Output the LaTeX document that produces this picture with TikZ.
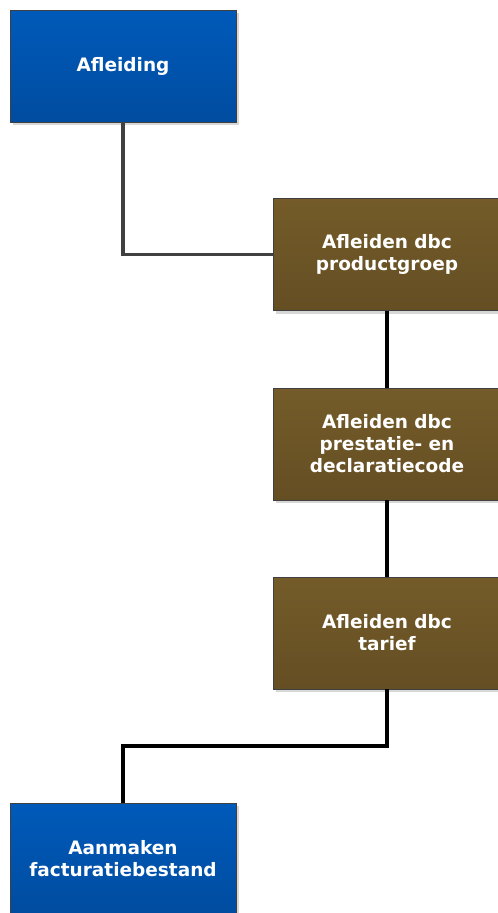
\documentclass[tikz,border=0pt]{standalone}
\usepackage{fontspec}
\setmainfont{DejaVu Sans}
\usetikzlibrary{shadows}
\definecolor{bluetop}{RGB}{0,90,185}
\definecolor{bluebot}{RGB}{0,76,160}
\definecolor{browntop}{RGB}{116,91,41}
\definecolor{brownbot}{RGB}{100,78,35}
\definecolor{shadowgray}{RGB}{215,215,215}
\definecolor{linegray}{RGB}{64,64,64}
\begin{document}
\begin{tikzpicture}[x=1pt,y=-1pt,
  boxbase/.style={draw=linegray, line width=0.8pt, minimum width=226pt, minimum height=112pt,
    align=center, text=white, font=\fontsize{18.5}{22}\selectfont\bfseries, inner sep=0pt,
    drop shadow={shadow xshift=3pt, shadow yshift=-3pt, fill=shadowgray, opacity=1}},
  bluebox/.style={boxbase, top color=bluetop, bottom color=bluebot},
  brownbox/.style={boxbase, top color=browntop, bottom color=brownbot, minimum width=228pt},
  conn/.style={line width=3.5pt}]
\useasboundingbox (0,0) rectangle (498,913);
\node[bluebox] (a) at (123,66) {Afleiding};
\node[brownbox] (b) at (387,254.5) {Afleiden dbc\\productgroep};
\node[brownbox] (c) at (387,444) {Afleiden dbc\\prestatie- en\\declaratiecode};
\node[brownbox] (d) at (387,633) {Afleiden dbc\\tarief};
\node[bluebox] (e) at (123,859) {Aanmaken\\facturatiebestand};
\draw[conn, draw=linegray] (a.south) |- (b.west);
\draw[conn] (b.south) -- (c.north);
\draw[conn] (c.south) -- (d.north);
\coordinate (m) at (0,746);
\draw[conn] (d.south) |- (m -| e.north) -- (e.north);
\end{tikzpicture}
\end{document}
